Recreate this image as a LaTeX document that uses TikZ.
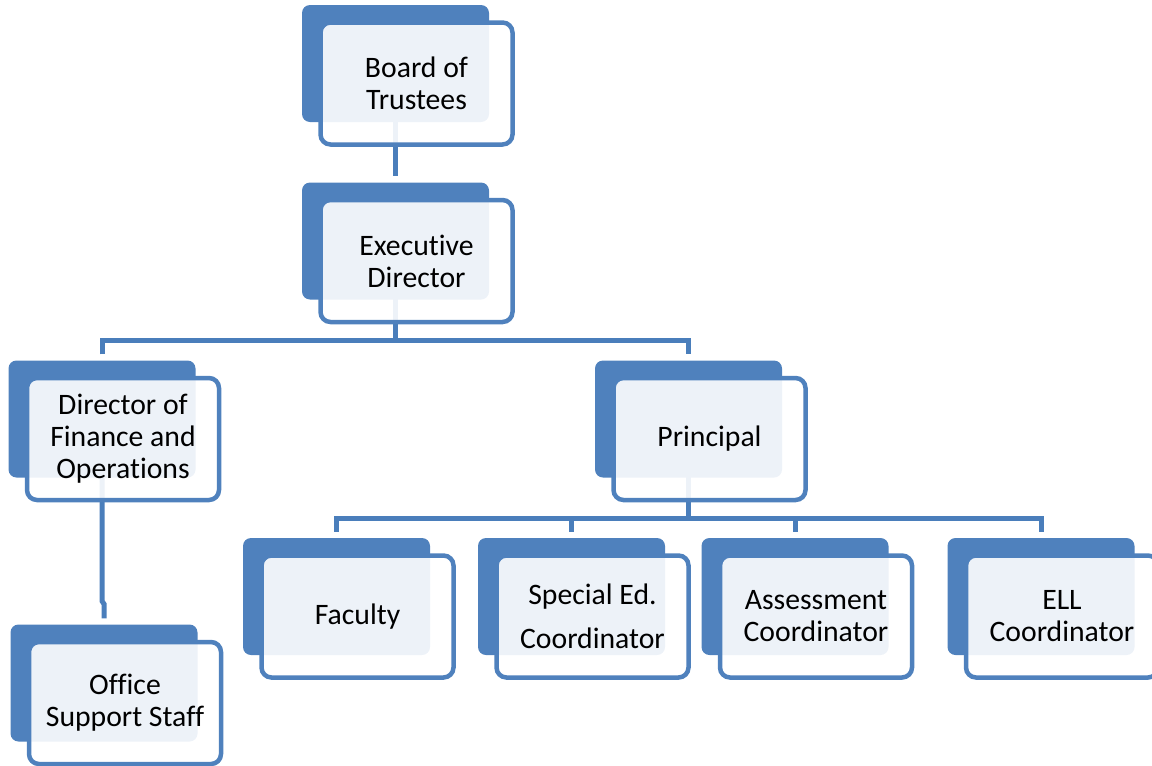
\documentclass[tikz,border=0pt]{standalone}
\usepackage{fontspec}
\setmainfont{Carlito}[RawFeature={-liga}]
\usetikzlibrary{calc}
\pgfdeclarelayer{bg}
\pgfsetlayers{bg,main}
\definecolor{accent}{HTML}{4F81BD}
\definecolor{linkc}{HTML}{4A7EBB}
\begin{document}
\begin{tikzpicture}[x=1pt,y=-1pt,
 backbox/.style={fill=accent, draw=none, rounded corners=8pt, minimum width=187pt, minimum height=117pt, inner sep=0pt},
 frontbox/.style={draw=accent, line width=4.5pt, fill=white, fill opacity=0.9, text opacity=1, rounded corners=10pt, minimum width=192pt, minimum height=122pt, inner sep=0pt, align=center, font=\fontsize{29.7}{32}\selectfont},
 link/.style={draw=linkc, line width=5pt}]
\useasboundingbox (0,0) rectangle (1152,766);
\clip (0,0) rectangle (1152,766);
\node[backbox] (boardB) at (395.5,63.5) {};
\node[frontbox] (board) at ($(boardB)+(21,20)$) {Board of\\Trustees};
\node[backbox] (execB) at (395.5,241) {};
\node[frontbox] (exec) at ($(execB)+(21,20)$) {Executive\\Director};
\node[backbox] (dfoB) at (102,419) {};
\node[frontbox] (dfo) at ($(dfoB)+(21,20)$) {Director of\\Finance and\\Operations};
\node[backbox] (prinB) at (688.5,419) {};
\node[frontbox] (prin) at ($(prinB)+(21,20)$) {Principal};
\node[backbox] (facB) at (336.5,596.5) {};
\node[frontbox] (fac) at ($(facB)+(21,20)$) {Faculty};
\node[backbox] (spedB) at (571.5,596.5) {};
\node[frontbox] (sped) at ($(spedB)+(21,20)$) {Special Ed.\\[12pt]Coordinator};
\node[backbox] (assB) at (795,596.5) {};
\node[frontbox] (ass) at ($(assB)+(21,20)$) {Assessment\\Coordinator};
\node[backbox] (ellB) at (1041,596.5) {};
\node[frontbox] (ell) at ($(ellB)+(21,20)$) {ELL\\Coordinator};
\node[backbox] (officeB) at (104,683) {};
\node[frontbox] (office) at ($(officeB)+(21,20)$) {Office\\Support Staff};
\coordinate (bus1) at (0,340);
\coordinate (bus2) at (0,518);
\begin{pgfonlayer}{bg}
\draw[link] (boardB.center) -- ($(execB.north)+(0,-6)$);
\draw[link] (execB.center) -- (execB |- bus1);
\draw[link] ($(dfoB.north)+(0,-6)$) |- (bus1 -| prinB) -- ($(prinB.north)+(0,-6)$);
\draw[link] (prinB.center) -- (prinB |- bus2);
\draw[link] ($(facB.north)+(0,-6)$) |- (bus2 -| ellB) -- ($(ellB.north)+(0,-6)$);
\draw[link] (spedB |- bus2) -- ($(spedB.north)+(0,-6)$);
\draw[link] (assB |- bus2) -- ($(assB.north)+(0,-6)$);
\draw[link] (dfoB.center) -- (dfoB |- 0,601) -- (officeB |- 0,604) -- ($(officeB.north)+(0,-6)$);
\end{pgfonlayer}
\end{tikzpicture}
\end{document}
